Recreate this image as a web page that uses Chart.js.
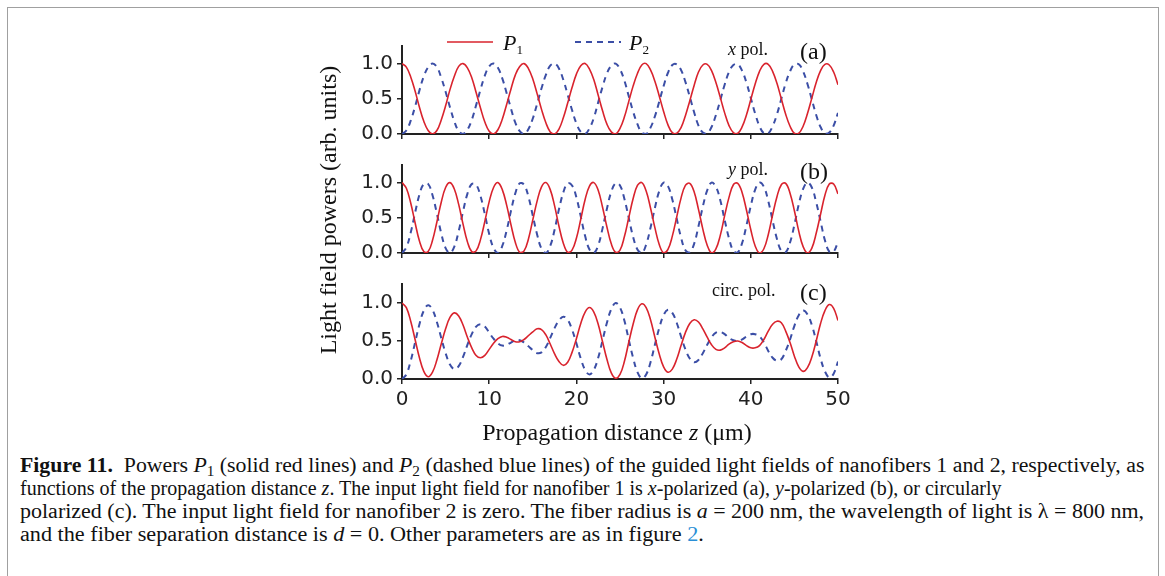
<!DOCTYPE html>
<html>
<head>
<meta charset="utf-8">
<script src="https://cdn.jsdelivr.net/npm/chart.js@4.4.0/dist/chart.umd.min.js"></script>
<style>
  body { margin: 0; width: 1165px; height: 576px; background: #fff; position: relative; overflow: hidden;
         font-family: 'Liberation Serif', 'Times New Roman', serif; color: #111; }
  .frame { position: absolute; left: 7px; top: 7px; width: 1150px; height: 620px; border: 1px solid #a0a0a0; }
  canvas { position: absolute; left: 300px; }
  .txt { position: absolute; white-space: nowrap; line-height: 1; }
  .sub { font-size: 0.6em; position: relative; top: 0.3em; }
  .cap { position: absolute; left: 20px; white-space: nowrap; line-height: 1; font-size: 20px; transform-origin: 0 0; }
  .cap sub { font-size: 0.7em; line-height: 0; vertical-align: -0.25em; }
</style>
</head>
<body>
<div class="frame"></div>

<canvas id="chartA" width="560" height="120" style="top:30px"></canvas>
<canvas id="chartB" width="560" height="120" style="top:149px"></canvas>
<canvas id="chartC" width="560" height="141" style="top:268px"></canvas>

<!-- legend -->
<svg style="position:absolute; left:440px; top:34px;" width="200" height="20">
  <line x1="7" y1="8" x2="53" y2="8" stroke="#d9232d" stroke-width="1.6"/>
  <line x1="135" y1="8" x2="181" y2="8" stroke="#3b4ea6" stroke-width="2" stroke-dasharray="6 5"/>
</svg>
<div class="txt" style="left:503px; top:32px; font-size:22px;"><i>P</i><span class="sub">1</span></div>
<div class="txt" style="left:629px; top:32px; font-size:22px;"><i>P</i><span class="sub">2</span></div>

<!-- panel labels -->
<div class="txt" style="left:728px; top:40px; font-size:18px;"><i>x</i> pol.</div>
<div class="txt" style="left:800px; top:39px; font-size:24px;">(a)</div>
<div class="txt" style="left:728px; top:160px; font-size:18px;"><i>y</i> pol.</div>
<div class="txt" style="left:800px; top:159px; font-size:24px;">(b)</div>
<div class="txt" style="left:712px; top:281px; font-size:18px;">circ. pol.</div>
<div class="txt" style="left:800px; top:280px; font-size:24px;">(c)</div>

<!-- axis titles -->
<div class="txt" style="left:128px; top:195px; width:400px; height:30px; line-height:30px; text-align:center; font-size:24px; transform:rotate(-90deg);">Light field powers (arb. units)</div>
<div class="txt" style="left:417px; top:420px; width:400px; text-align:center; font-size:24px;">Propagation distance <i>z</i> (μm)</div>

<!-- caption -->
<div class="cap" style="top:455px; transform:scaleX(1.09);"><b>Figure 11.</b>&nbsp; Powers <i>P</i><sub>1</sub> (solid red lines) and <i>P</i><sub>2</sub> (dashed blue lines) of the guided light fields of nanofibers 1 and 2, respectively, as</div>
<div class="cap" style="top:478px; transform:scaleX(1.0);">functions of the propagation distance <i>z</i>. The input light field for nanofiber 1 is <i>x</i>-polarized (a), <i>y</i>-polarized (b), or circularly</div>
<div class="cap" style="top:501px; transform:scaleX(1.10);">polarized (c). The input light field for nanofiber 2 is zero. The fiber radius is <i>a</i> = 200 nm, the wavelength of light is λ = 800 nm,</div>
<div class="cap" style="top:524px; transform:scaleX(1.11);">and the fiber separation distance is <i>d</i> = 0. Other parameters are as in figure <span style="color:#2a8fd6">2</span>.</div>

<script>
// propagation distance z (um)
const zValues = [0, 0.5, 1, 1.5, 2, 2.5, 3, 3.5, 4, 4.5, 5, 5.5, 6, 6.5, 7, 7.5, 8, 8.5, 9, 9.5,
  10, 10.5, 11, 11.5, 12, 12.5, 13, 13.5, 14, 14.5, 15, 15.5, 16, 16.5, 17, 17.5, 18, 18.5, 19, 19.5,
  20, 20.5, 21, 21.5, 22, 22.5, 23, 23.5, 24, 24.5, 25, 25.5, 26, 26.5, 27, 27.5, 28, 28.5, 29, 29.5,
  30, 30.5, 31, 31.5, 32, 32.5, 33, 33.5, 34, 34.5, 35, 35.5, 36, 36.5, 37, 37.5, 38, 38.5, 39, 39.5,
  40, 40.5, 41, 41.5, 42, 42.5, 43, 43.5, 44, 44.5, 45, 45.5, 46, 46.5, 47, 47.5, 48, 48.5, 49, 49.5, 50];

// (a) x pol.
const xPolP1 = [1.00, 0.95, 0.81, 0.61, 0.38, 0.18, 0.05, 0.00, 0.05, 0.20,
  0.40, 0.63, 0.82, 0.96, 1.00, 0.94, 0.80, 0.59, 0.37, 0.17,
  0.04, 0.00, 0.06, 0.21, 0.42, 0.64, 0.84, 0.96, 1.00, 0.93,
  0.78, 0.57, 0.35, 0.16, 0.03, 0.00, 0.07, 0.23, 0.44, 0.66,
  0.85, 0.97, 1.00, 0.92, 0.77, 0.55, 0.33, 0.14, 0.03, 0.00,
  0.08, 0.24, 0.46, 0.68, 0.86, 0.98, 1.00, 0.91, 0.75, 0.54,
  0.32, 0.13, 0.02, 0.01, 0.09, 0.26, 0.47, 0.69, 0.88, 0.98,
  0.99, 0.90, 0.73, 0.52, 0.30, 0.12, 0.02, 0.01, 0.10, 0.27,
  0.49, 0.71, 0.89, 0.99, 0.99, 0.89, 0.72, 0.50, 0.28, 0.11,
  0.01, 0.01, 0.11, 0.29, 0.51, 0.73, 0.90, 0.99, 0.98, 0.88, 0.70];
const xPolP2 = [0.00, 0.05, 0.19, 0.39, 0.62, 0.82, 0.95, 1.00, 0.95, 0.80,
  0.60, 0.38, 0.18, 0.04, 0.00, 0.06, 0.20, 0.41, 0.63, 0.83,
  0.96, 1.00, 0.94, 0.79, 0.58, 0.36, 0.16, 0.04, 0.00, 0.07,
  0.22, 0.43, 0.65, 0.84, 0.97, 1.00, 0.93, 0.77, 0.56, 0.34,
  0.15, 0.03, 0.00, 0.08, 0.23, 0.45, 0.67, 0.86, 0.97, 1.00,
  0.92, 0.76, 0.54, 0.32, 0.14, 0.02, 0.00, 0.09, 0.25, 0.46,
  0.68, 0.87, 0.98, 0.99, 0.91, 0.74, 0.53, 0.31, 0.12, 0.02,
  0.01, 0.10, 0.27, 0.48, 0.70, 0.88, 0.98, 0.99, 0.90, 0.73,
  0.51, 0.29, 0.11, 0.01, 0.01, 0.11, 0.28, 0.50, 0.72, 0.89,
  0.99, 0.99, 0.89, 0.71, 0.49, 0.27, 0.10, 0.01, 0.02, 0.12, 0.30];

// (b) y pol.
const yPolP1 = [1.00, 0.92, 0.71, 0.43, 0.17, 0.02, 0.02, 0.18, 0.44, 0.72,
  0.93, 1.00, 0.91, 0.69, 0.41, 0.16, 0.02, 0.03, 0.19, 0.45,
  0.73, 0.93, 1.00, 0.90, 0.68, 0.40, 0.15, 0.01, 0.03, 0.20,
  0.47, 0.74, 0.94, 1.00, 0.90, 0.67, 0.38, 0.14, 0.01, 0.04,
  0.21, 0.48, 0.76, 0.95, 1.00, 0.89, 0.65, 0.37, 0.13, 0.01,
  0.04, 0.23, 0.50, 0.77, 0.96, 1.00, 0.88, 0.64, 0.36, 0.12,
  0.00, 0.05, 0.24, 0.51, 0.78, 0.96, 0.99, 0.87, 0.62, 0.34,
  0.11, 0.00, 0.06, 0.25, 0.53, 0.79, 0.97, 0.99, 0.86, 0.61,
  0.33, 0.10, 0.00, 0.06, 0.26, 0.54, 0.80, 0.97, 0.99, 0.85,
  0.60, 0.31, 0.09, 0.00, 0.07, 0.28, 0.55, 0.82, 0.98, 0.98, 0.84];
const yPolP2 = [0.00, 0.08, 0.29, 0.57, 0.83, 0.98, 0.98, 0.82, 0.56, 0.28,
  0.07, 0.00, 0.09, 0.31, 0.59, 0.84, 0.98, 0.97, 0.81, 0.55,
  0.27, 0.07, 0.00, 0.10, 0.32, 0.60, 0.85, 0.99, 0.97, 0.80,
  0.53, 0.26, 0.06, 0.00, 0.10, 0.33, 0.62, 0.86, 0.99, 0.96,
  0.79, 0.52, 0.24, 0.05, 0.00, 0.11, 0.35, 0.63, 0.87, 0.99,
  0.96, 0.77, 0.50, 0.23, 0.05, 0.00, 0.12, 0.36, 0.64, 0.88,
  1.00, 0.95, 0.76, 0.49, 0.22, 0.04, 0.01, 0.13, 0.38, 0.66,
  0.89, 1.00, 0.94, 0.75, 0.47, 0.21, 0.03, 0.01, 0.14, 0.39,
  0.67, 0.90, 1.00, 0.94, 0.74, 0.46, 0.20, 0.03, 0.01, 0.15,
  0.40, 0.69, 0.91, 1.00, 0.93, 0.72, 0.45, 0.18, 0.02, 0.02, 0.16];

// (c) circ. pol.
const circPolP1 = [1.00, 0.94, 0.76, 0.52, 0.28, 0.10, 0.03, 0.09, 0.25, 0.46,
  0.66, 0.81, 0.87, 0.83, 0.71, 0.55, 0.41, 0.31, 0.28, 0.31,
  0.39, 0.47, 0.53, 0.56, 0.55, 0.52, 0.49, 0.49, 0.52, 0.57,
  0.62, 0.66, 0.65, 0.58, 0.46, 0.33, 0.23, 0.18, 0.22, 0.35,
  0.53, 0.73, 0.88, 0.94, 0.88, 0.72, 0.49, 0.26, 0.08, 0.01,
  0.06, 0.23, 0.48, 0.72, 0.91, 0.99, 0.94, 0.78, 0.55, 0.33,
  0.16, 0.09, 0.13, 0.26, 0.44, 0.61, 0.73, 0.78, 0.75, 0.66,
  0.55, 0.45, 0.39, 0.38, 0.41, 0.46, 0.49, 0.50, 0.48, 0.44,
  0.41, 0.41, 0.44, 0.52, 0.63, 0.72, 0.76, 0.74, 0.63, 0.48,
  0.30, 0.16, 0.10, 0.15, 0.29, 0.50, 0.73, 0.90, 0.98, 0.93, 0.77];
const circPolP2 = [0.00, 0.06, 0.24, 0.48, 0.72, 0.90, 0.97, 0.91, 0.75, 0.54,
  0.34, 0.19, 0.13, 0.17, 0.29, 0.45, 0.59, 0.69, 0.72, 0.69,
  0.61, 0.53, 0.47, 0.44, 0.45, 0.48, 0.51, 0.51, 0.48, 0.43,
  0.38, 0.34, 0.35, 0.42, 0.54, 0.67, 0.77, 0.82, 0.78, 0.65,
  0.47, 0.27, 0.12, 0.06, 0.12, 0.28, 0.51, 0.74, 0.92, 1.00,
  0.94, 0.77, 0.52, 0.28, 0.09, 0.01, 0.06, 0.22, 0.45, 0.67,
  0.84, 0.91, 0.87, 0.74, 0.56, 0.39, 0.27, 0.22, 0.25, 0.34,
  0.45, 0.55, 0.61, 0.62, 0.59, 0.54, 0.51, 0.50, 0.52, 0.56,
  0.59, 0.59, 0.56, 0.48, 0.37, 0.28, 0.24, 0.26, 0.37, 0.52,
  0.70, 0.84, 0.90, 0.85, 0.71, 0.50, 0.27, 0.10, 0.02, 0.07, 0.23];

const red = '#d9232d';
const blue = '#3b4ea6';
const axisColor = '#222';

Chart.defaults.font.family = "'DejaVu Sans', sans-serif";
Chart.defaults.font.size = 20;
Chart.defaults.color = axisColor;

function drawPanel(canvasId, p1, p2, showXLabels) {
    new Chart(document.getElementById(canvasId), {
        type: 'line',
        data: {
            labels: zValues,
            datasets: [{
                label: 'P1',
                data: p1,
                borderColor: red,
                borderWidth: 1.6,
                pointRadius: 0,
                tension: 0.4,
                fill: false,
            }, {
                label: 'P2',
                data: p2,
                borderColor: blue,
                borderWidth: 2,
                borderDash: [6, 5],
                pointRadius: 0,
                tension: 0.4,
                fill: false,
            }]
        },
        options: {
            responsive: false,
            animation: false,
            devicePixelRatio: 1,
            layout: { padding: { left: 0, right: 22, top: 14, bottom: 0 } },
            plugins: { legend: { display: false }, tooltip: { enabled: false } },
            scales: {
                x: {
                    type: 'linear',
                    min: 0,
                    max: 50,
                    ticks: { display: showXLabels, stepSize: 10, padding: 4 },
                    grid: { drawOnChartArea: false, tickLength: 5, color: axisColor, lineWidth: 1.5 },
                    border: { color: axisColor, width: 2 },
                    afterFit: (s) => { s.height = showXLabels ? 30 : 9; }
                },
                y: {
                    min: 0,
                    max: 1.25,
                    ticks: {
                        stepSize: 0.25,
                        padding: 4,
                        callback: (v) => (Math.round(v * 4) % 2 === 0 ? v.toFixed(1) : '')
                    },
                    afterBuildTicks: (s) => { s.ticks = s.ticks.filter(t => t.value <= 1.0001); },
                    grid: { drawOnChartArea: false, tickLength: 5, color: axisColor, lineWidth: 1.5 },
                    border: { color: axisColor, width: 2 },
                    afterFit: (s) => { s.width = 102; }
                }
            }
        }
    });
}

drawPanel('chartA', xPolP1, xPolP2, false);
drawPanel('chartB', yPolP1, yPolP2, false);
drawPanel('chartC', circPolP1, circPolP2, true);
</script>
</body>
</html>
